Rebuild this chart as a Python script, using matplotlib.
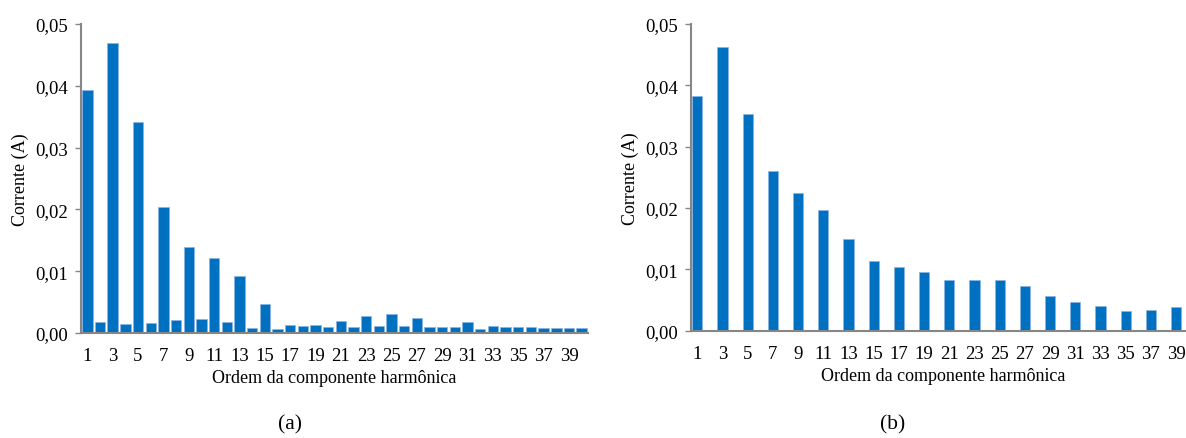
#! /usr/bin/env python3
# coding: utf-8

"""
Espectro harmônico da corrente - (a) e (b)
"""

import matplotlib
matplotlib.use('Agg')
import matplotlib.pyplot as plt
from matplotlib.ticker import FuncFormatter

plt.rcParams['font.family'] = ['Liberation Serif', 'DejaVu Serif']

# ordem harmônica
harmonicas = list(range(1, 41))
rotulos_x = [str(h) for h in range(1, 40, 2)]

# (a) corrente por harmônica (A)
corrente_a = [0.0393, 0.0018, 0.0470, 0.0015, 0.0341, 0.0016, 0.0204, 0.0021,
              0.0139, 0.0023, 0.0122, 0.0018, 0.0092, 0.0008, 0.0047, 0.0007,
              0.0013, 0.0011, 0.0013, 0.0009, 0.0020, 0.0009, 0.0027, 0.0012,
              0.0030, 0.0012, 0.0024, 0.0009, 0.0009, 0.0009, 0.0017, 0.0007,
              0.0011, 0.0009, 0.0009, 0.0009, 0.0008, 0.0008, 0.0008, 0.0008]

# (b) corrente por harmônica (A)
corrente_b = [0.0383, 0.0, 0.0463, 0.0, 0.0354, 0.0, 0.0260, 0.0,
              0.0225, 0.0, 0.0197, 0.0, 0.0149, 0.0, 0.0114, 0.0,
              0.0104, 0.0, 0.0096, 0.0001, 0.0083, 0.0001, 0.0083, 0.0001,
              0.0083, 0.0001, 0.0073, 0.0001, 0.0056, 0.0001, 0.0046, 0.0001,
              0.0041, 0.0, 0.0032, 0.0, 0.0033, 0.0, 0.0038, 0.0]

W, H = 1186, 439
AZUL = '#0070C0'
CINZA = '#868686'


def virgula(v, pos):
    return ('%.2f' % v).replace('.', ',')


def grafico(ax, valores, largura):
    ax.bar(harmonicas, valores, width=largura, color=AZUL,
           edgecolor='#8DB4E2', linewidth=0.5, zorder=2)
    ax.set_xlim(0.5, 40.5)
    ax.set_ylim(0, 0.05)
    ax.set_yticks([0, 0.01, 0.02, 0.03, 0.04, 0.05])
    ax.yaxis.set_major_formatter(FuncFormatter(virgula))
    ax.set_xticks(range(1, 40, 2))
    ax.set_xticklabels(rotulos_x)
    for lado in ['top', 'right']:
        ax.spines[lado].set_visible(False)
    for lado in ['left', 'bottom']:
        ax.spines[lado].set_color(CINZA)
        ax.spines[lado].set_linewidth(1.5)
    ax.tick_params(axis='y', length=4, width=1, color=CINZA, pad=5,
                   labelsize=13.5)
    ax.tick_params(axis='x', length=0, pad=10, labelsize=13.5)
    ax.set_ylabel('Corrente (A)', fontsize=13, labelpad=5)
    ax.set_xlabel('Ordem da componente harmônica', fontsize=13, labelpad=4)


fig = plt.figure(figsize=(W / 100, H / 100), dpi=100)

ax1 = fig.add_axes([81 / W, (H - 334) / H, 507 / W, 309 / H])
grafico(ax1, corrente_a, 0.82)

ax2 = fig.add_axes([691 / W, (H - 331.7) / H, 504 / W, 306.7 / H])
grafico(ax2, corrente_b, 0.8)

fig.text(290 / W, 1 - 425 / H, '(a)', ha='center', va='center', fontsize=15.5)
fig.text(893 / W, 1 - 425 / H, '(b)', ha='center', va='center', fontsize=15.5)

plt.savefig('out.png', dpi=100)
